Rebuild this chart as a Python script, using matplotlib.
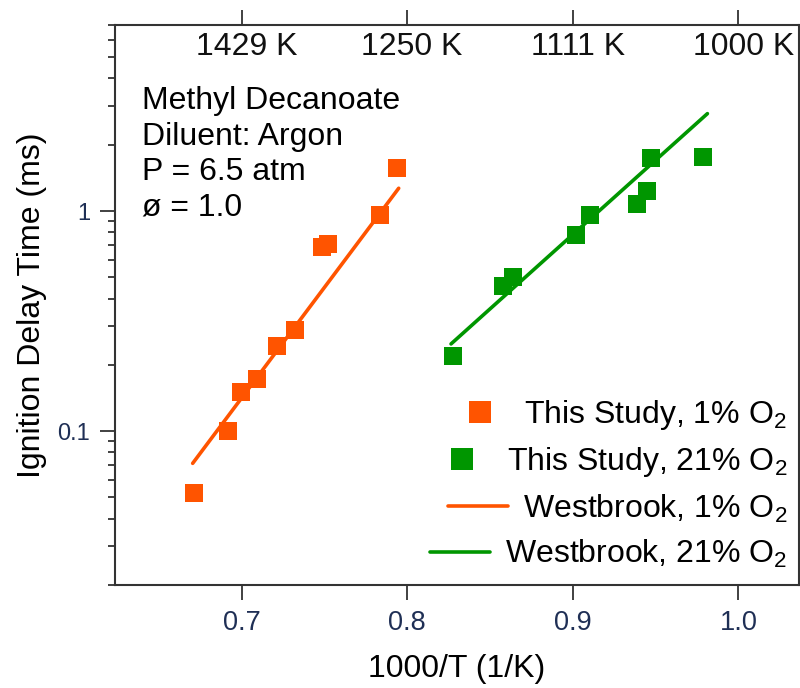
import matplotlib
matplotlib.use('Agg')
import matplotlib.pyplot as plt
import matplotlib.ticker as mticker
import matplotlib.transforms as mtransforms

plt.rcParams['font.family'] = ['Liberation Sans', 'DejaVu Sans']
plt.rcParams['mathtext.fontset'] = 'custom'
plt.rcParams['mathtext.rm'] = 'Liberation Sans'
plt.rcParams['mathtext.it'] = 'Liberation Sans:italic'
plt.rcParams['mathtext.bf'] = 'Liberation Sans:bold'

# ---------------- data ----------------
x_1pct = [0.6713, 0.6920, 0.6997, 0.7095, 0.7216, 0.7323, 0.7486, 0.7522, 0.7836, 0.7937]
tau_1pct = [0.0523, 0.1005, 0.150, 0.173, 0.243, 0.289, 0.686, 0.707, 0.959, 1.565]
x_21pct = [0.8279, 0.8581, 0.8641, 0.9018, 0.9104, 0.9390, 0.9450, 0.9471, 0.9785]
tau_21pct = [0.219, 0.457, 0.499, 0.777, 0.959, 1.073, 1.233, 1.738, 1.768]
x_wb_1pct = [0.6705, 0.7949]
tau_wb_1pct = [0.0714, 1.269]
x_wb_21pct = [0.8265, 0.9813]
tau_wb_21pct = [0.249, 2.77]

xticks = [0.7, 0.8, 0.9, 1.0]
xtick_labels = ['0.7', '0.8', '0.9', '1.0']
top_labels = ['1429 K', '1250 K', '1111 K', '1000 K']
yticks = [0.1, 1]
ytick_labels = ['0.1', '1']
info_lines = ['Methyl Decanoate', 'Diluent: Argon', 'P = 6.5 atm', 'ø = 1.0']
legend_labels = ['This Study, 1% O$_2$', 'This Study, 21% O$_2$',
                 'Westbrook, 1% O$_2$', 'Westbrook, 21% O$_2$']

ORANGE = '#FF5400'
GREEN = '#009600'
TICKCOL = '#1f2f55'

fig = plt.figure(figsize=(8, 6.88), dpi=100)
ax = fig.add_axes([114.5 / 800, 1 - 585 / 688, 684.5 / 800, 560 / 688])

l1, = ax.plot(x_1pct, tau_1pct, 's', color=ORANGE, ms=12.7, mew=0, ls='none')
l2, = ax.plot(x_21pct, tau_21pct, 's', color=GREEN, ms=12.7, mew=0, ls='none')
l3, = ax.plot(x_wb_1pct, tau_wb_1pct, '-', color=ORANGE, lw=2.6, solid_capstyle='round')
l4, = ax.plot(x_wb_21pct, tau_wb_21pct, '-', color=GREEN, lw=2.6, solid_capstyle='round')

ax.set_yscale('log')
ax.set_xlim(0.6233, 1.0366)
ax.set_ylim(0.02, 7)

ax.set_xticks(xticks)
ax.set_xticklabels(xtick_labels)
ax.set_yticks(yticks)
ax.set_yticklabels(ytick_labels)
ax.yaxis.set_minor_locator(mticker.LogLocator(base=10, subs=[2, 3, 4, 5, 6, 7, 8, 9], numticks=20))
ax.yaxis.set_minor_formatter(mticker.NullFormatter())
ax.xaxis.set_minor_locator(mticker.NullLocator())

for sp in ax.spines.values():
    sp.set_linewidth(1.5)
    sp.set_color('#333333')

ax.tick_params(axis='x', which='major', direction='out', length=10.8, width=1.3,
               color='#333333', top=True, labeltop=False, labelsize=19.5, pad=7.5,
               labelcolor=TICKCOL)
ax.tick_params(axis='y', which='major', direction='out', length=10.8, width=1.3,
               color='#333333', right=False, labelsize=17, pad=6.8, labelcolor=TICKCOL)
ax.tick_params(axis='y', which='minor', direction='out', length=5, width=1.3,
               color='#333333', right=False)

# top temperature labels (inside the axes)
offset = mtransforms.ScaledTranslation(5 / 100, 0, fig.dpi_scale_trans)
blend = mtransforms.blended_transform_factory(ax.transData, ax.transAxes) + offset
for xv, lab in zip(xticks, top_labels):
    ax.text(xv, 0.9607, lab, transform=blend, ha='center', va='center', fontsize=23,
            color='#111111')

ax.text(0.0397, 0.891, '\n'.join(info_lines), transform=ax.transAxes, ha='left',
        va='top', fontsize=23, color='black', linespacing=1.24)

ax.set_xlabel('1000/T (1/K)', fontsize=23, labelpad=13)
ax.set_ylabel('Ignition Delay Time (ms)', fontsize=23)
ax.yaxis.set_label_coords(-0.0986, 0.5)

leg = ax.legend([l1, l2, l3, l4], legend_labels, loc='lower right',
                bbox_to_anchor=(0.9825, 0.027), frameon=False, fontsize=23,
                handlelength=1.9, handletextpad=0.45, labelspacing=0.41,
                borderpad=0, borderaxespad=0, markerscale=1.2)
for col in leg._legend_handle_box.get_children():
    col.align = 'right'

fig.savefig('out.png', dpi=100)
